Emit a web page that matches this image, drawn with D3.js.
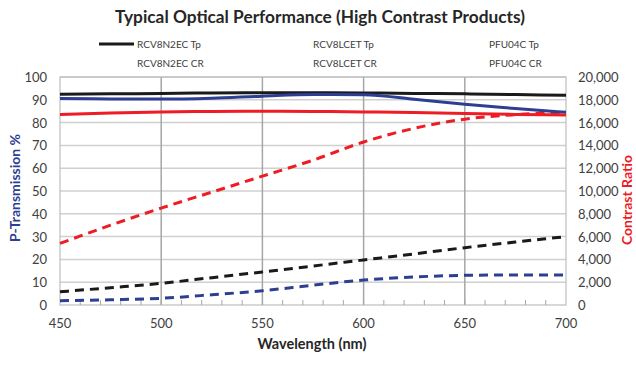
<!DOCTYPE html>
<meta charset="utf-8">
<title>Typical Optical Performance</title>
<style>
body { margin: 0; background: #fff; }
text { font-family: Lato, "Open Sans", sans-serif; }
</style>
<body>
<script src="https://d3js.org/d3.v7.min.js"></script>
<script>

// data
var wavelengths = [450, 475, 500, 525, 550, 575, 600, 625, 650, 675, 700];

var rcv8n2ecTp = [92.4, 92.6, 92.8, 93.0, 93.1, 93.1, 93.0, 92.8, 92.6, 92.3, 92.0];
var rcv8lcetTp = [90.6, 90.4, 90.3, 90.7, 91.6, 92.3, 92.2, 90.2, 88.0, 86.2, 84.5];
var pfu04cTp   = [83.6, 84.2, 84.7, 84.9, 85.0, 84.9, 84.7, 84.4, 84.0, 83.6, 83.3];

var rcv8n2ecCR = [1160, 1520, 1900, 2400, 2900, 3420, 3950, 4480, 5030, 5520, 6000];
var rcv8lcetCR = [380, 460, 590, 900, 1250, 1740, 2190, 2460, 2600, 2640, 2630];
var pfu04cCR   = [5400, 7000, 8500, 9900, 11300, 12700, 14300, 15500, 16300, 16700, 16900];

var leftTicks = [0, 10, 20, 30, 40, 50, 60, 70, 80, 90, 100];
var rightTicks = [0, 2000, 4000, 6000, 8000, 10000, 12000, 14000, 16000, 18000, 20000];
var xTicks = [450, 500, 550, 600, 650, 700];
var legendNames = [["RCV8N2EC Tp", "RCV8LCET Tp", "PFU04C Tp"],
                   ["RCV8N2EC CR", "RCV8LCET CR", "PFU04C CR"]];

var width = 636, height = 372;
var plotL = 60, plotR = 566, plotT = 77, plotB = 305;

var svg = d3.select("body").append("svg")
    .attr("width", width)
    .attr("height", height);

var x = d3.scaleLinear().domain([450, 700]).range([plotL, plotR]);
var yL = d3.scaleLinear().domain([0, 100]).range([plotB, plotT]);
var yR = d3.scaleLinear().domain([0, 20000]).range([plotB, plotT]);

// gridlines
svg.append("g").selectAll("line")
    .data(leftTicks.slice(1))
    .enter().append("line")
    .attr("x1", plotL).attr("x2", plotR)
    .attr("y1", function(d) { return yL(d); })
    .attr("y2", function(d) { return yL(d); })
    .attr("stroke", "#d0d0d0")
    .attr("stroke-width", 1.5);

svg.append("g").selectAll("line")
    .data(xTicks.slice(1, -1))
    .enter().append("line")
    .attr("y1", plotT).attr("y2", plotB)
    .attr("x1", function(d) { return x(d); })
    .attr("x2", function(d) { return x(d); })
    .attr("stroke", "#a6a6a6")
    .attr("stroke-width", 1.5);

// frame
svg.append("rect")
    .attr("x", plotL).attr("y", plotT)
    .attr("width", plotR - plotL).attr("height", plotB - plotT)
    .attr("fill", "none")
    .attr("stroke", "#bfbfbf")
    .attr("stroke-width", 1.2);

// minor ticks on bottom
svg.append("g").selectAll("line")
    .data(d3.range(460, 700, 10))
    .enter().append("line")
    .attr("x1", function(d) { return x(d); })
    .attr("x2", function(d) { return x(d); })
    .attr("y1", plotB).attr("y2", plotB - 5)
    .attr("stroke", "#a6a6a6");

// tick labels
svg.append("g").selectAll("text")
    .data(leftTicks)
    .enter().append("text")
    .attr("x", 47)
    .attr("y", function(d) { return yL(d) + 5; })
    .attr("text-anchor", "end")
    .attr("font-size", 13)
    .attr("fill", "#404040")
    .text(function(d) { return d; });

svg.append("g").selectAll("text")
    .data(rightTicks)
    .enter().append("text")
    .attr("x", 578)
    .attr("y", function(d) { return yR(d) + 5; })
    .attr("font-size", 13)
    .attr("fill", "#404040")
    .text(function(d) { return d3.format(",")(d); });

svg.append("g").selectAll("text")
    .data(xTicks)
    .enter().append("text")
    .attr("x", function(d) { return x(d); })
    .attr("y", 328)
    .attr("text-anchor", "middle")
    .attr("font-size", 13)
    .attr("fill", "#404040")
    .text(function(d) { return d; });

// lines
var lineL = d3.line()
    .x(function(d, i) { return x(wavelengths[i]); })
    .y(function(d) { return yL(d); })
    .curve(d3.curveMonotoneX);
var lineR = d3.line()
    .x(function(d, i) { return x(wavelengths[i]); })
    .y(function(d) { return yR(d); })
    .curve(d3.curveMonotoneX);

var series = [
  {v: rcv8n2ecCR, line: lineR, color: "#1a1a1a", dash: "9,6"},
  {v: rcv8lcetCR, line: lineR, color: "#2e3f93", dash: "9,6"},
  {v: pfu04cCR,   line: lineR, color: "#ee1c25", dash: "9,6"},
  {v: rcv8n2ecTp, line: lineL, color: "#1a1a1a", dash: null},
  {v: rcv8lcetTp, line: lineL, color: "#2e3f93", dash: null},
  {v: pfu04cTp,   line: lineL, color: "#ee1c25", dash: null}
];

svg.append("g").selectAll("path")
    .data(series)
    .enter().append("path")
    .attr("d", function(d) { return d.line(d.v); })
    .attr("fill", "none")
    .attr("stroke", function(d) { return d.color; })
    .attr("stroke-width", 3)
    .attr("stroke-dasharray", function(d) { return d.dash; });

// title
svg.append("text")
    .attr("x", 320).attr("y", 23)
    .attr("text-anchor", "middle")
    .attr("font-size", 17.3)
    .attr("font-weight", "bold")
    .attr("fill", "#262626")
    .text("Typical Optical Performance (High Contrast Products)");

// legend (only the first entry shows its swatch)
svg.append("line")
    .attr("x1", 99).attr("x2", 134)
    .attr("y1", 44).attr("y2", 44)
    .attr("stroke", "#1a1a1a")
    .attr("stroke-width", 3);

var legX = [137, 313, 489];
legendNames.forEach(function(row, r) {
  svg.append("g").selectAll("text")
      .data(row)
      .enter().append("text")
      .attr("x", function(d, i) { return legX[i]; })
      .attr("y", 48 + r * 19)
      .attr("font-size", 10)
      .attr("fill", "#404040")
      .text(function(d) { return d; });
});

// axis titles
svg.append("text")
    .attr("transform", "translate(20,188) rotate(-90)")
    .attr("text-anchor", "middle")
    .attr("font-size", 14)
    .attr("font-weight", "bold")
    .attr("fill", "#2e3f93")
    .text("P-Transmission %");

svg.append("text")
    .attr("transform", "translate(632,200) rotate(-90)")
    .attr("text-anchor", "middle")
    .attr("font-size", 14)
    .attr("font-weight", "bold")
    .attr("fill", "#ee1c25")
    .text("Contrast Ratio");

svg.append("text")
    .attr("x", 312).attr("y", 349)
    .attr("text-anchor", "middle")
    .attr("font-size", 14.5)
    .attr("font-weight", "bold")
    .attr("fill", "#262626")
    .text("Wavelength (nm)");

</script>
